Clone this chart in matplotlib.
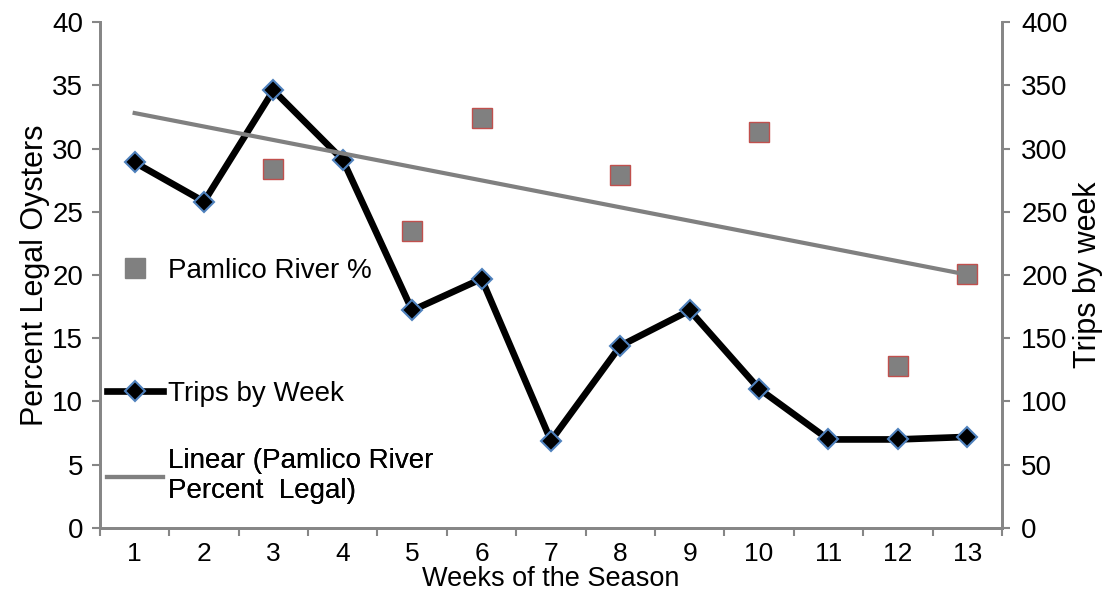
import matplotlib
matplotlib.use("Agg")
import matplotlib.pyplot as plt
from matplotlib.lines import Line2D
import numpy as np

plt.rcParams['font.family'] = ['Liberation Sans', 'DejaVu Sans']

# data
weeks = list(range(1, 14))
trips = [289, 258, 346, 291, 172, 197, 69, 144, 172, 110, 70, 70, 72]
pct_weeks = [3, 5, 6, 8, 10, 12, 13]
pct_legal = [28.4, 23.5, 32.4, 27.9, 31.3, 12.8, 20.1]

axis_grey = '#868686'
fs = 20

fig = plt.figure(figsize=(11.12, 5.97), dpi=100)
ax = fig.add_axes([0.0899, 0.1156, 0.8111, 0.8475])
ax2 = ax.twinx()

# trips on the right axis
ax2.plot(weeks, trips, color='black', lw=4.8, marker='D', ms=10,
         mfc='black', mec='#4f81bd', mew=1.5)

# percent legal + linear trend on the left axis
ax.plot(pct_weeks, pct_legal, ls='none', marker='s', ms=14,
        mfc='#808080', mec='#c0504d', mew=1, zorder=3)
slope, icpt = np.polyfit(pct_weeks, pct_legal, 1)
xs = np.array([weeks[0], weeks[-1]])
ax.plot(xs, slope * xs + icpt, color='#808080', lw=3, zorder=4)

ax.set_zorder(ax2.get_zorder() + 1)
ax.patch.set_visible(False)

ax.set_xlim(0.5, 13.5)
ax.set_ylim(0, 40)
ax2.set_ylim(0, 400)
ax.set_yticks(range(0, 41, 5))
ax2.set_yticks(range(0, 401, 50))
ax.set_xticks(weeks)
ax.set_xticks(np.arange(0.5, 14, 1), minor=True)
ax.tick_params(axis='x', which='major', length=0, labelsize=19, pad=10)
ax.tick_params(axis='x', which='minor', length=6, width=1.5, color=axis_grey)
ax.tick_params(axis='y', length=6, width=1.5, color=axis_grey, labelsize=fs, pad=6)
ax2.tick_params(axis='y', length=6, width=1.5, color=axis_grey, labelsize=fs, pad=8)

for a in (ax, ax2):
    a.spines['top'].set_visible(False)
    for s in ('left', 'right', 'bottom'):
        a.spines[s].set_color(axis_grey)
        a.spines[s].set_linewidth(2)

ax.set_xlabel('Weeks of the Season', fontsize=19.5, labelpad=0)
ax.set_ylabel('Percent Legal Oysters', fontsize=22, labelpad=2)
ax2.set_ylabel('Trips by week', fontsize=22, labelpad=4)

# legend entries spaced like the original (one legend per entry)
h_pct = Line2D([], [], ls='none', marker='s', ms=14, mfc='#808080', mec='#808080')
h_trips = Line2D([], [], color='black', lw=4.8, marker='D', ms=10,
                 mfc='black', mec='#4f81bd', mew=1.5)
h_trend = Line2D([], [], color='#808080', lw=3)
entries = [(h_pct, 'Pamlico River %', 0.508),
           (h_trips, 'Trips by Week', 0.265),
           (h_trend, 'Linear (Pamlico River\nPercent  Legal)', 0.102)]
for h, lab, yy in entries:
    leg = ax.legend(handles=[h], labels=[lab], loc='center left',
                    bbox_to_anchor=(0.008, yy), frameon=False, fontsize=fs,
                    handlelength=2.0, handletextpad=0.2, borderpad=0,
                    borderaxespad=0)
    ax.add_artist(leg)

fig.savefig('out.png', dpi=100)
